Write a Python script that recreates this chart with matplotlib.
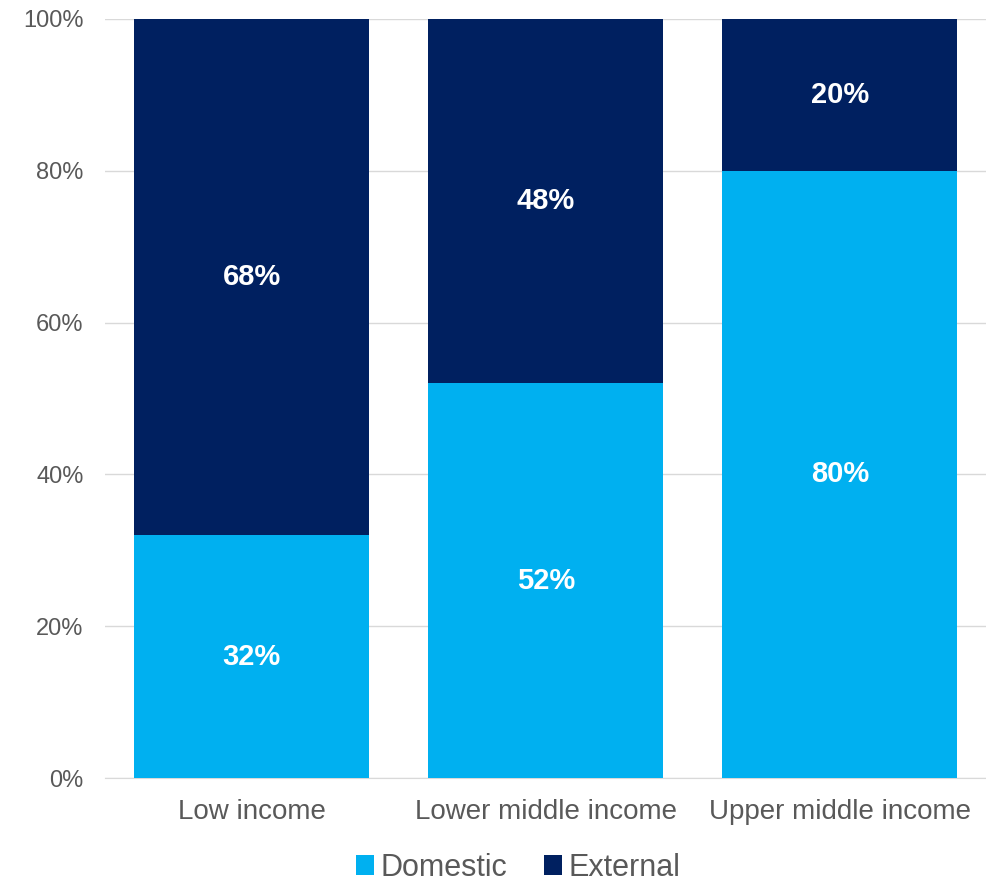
import matplotlib.pyplot as plt
from matplotlib.ticker import PercentFormatter

plt.rcParams['font.family'] = ['Liberation Sans', 'DejaVu Sans']

categories = ['Low income', 'Lower middle income', 'Upper middle income']
domestic = [32, 52, 80]
external = [68, 48, 20]

dom_color = '#00B0F0'
ext_color = '#002060'

fig = plt.figure(figsize=(9.87, 8.82), dpi=100)
ax = fig.add_axes([0.1059, 0.1179, 0.894, 0.8606])

x = range(len(categories))
b1 = ax.bar(x, domestic, width=0.8, color=dom_color, label='Domestic', zorder=3)
b2 = ax.bar(x, external, width=0.8, bottom=domestic, color=ext_color, label='External', zorder=3)

for bars, vals, bottoms in [(b1, domestic, [0, 0, 0]), (b2, external, domestic)]:
    for rect, v, b in zip(bars, vals, bottoms):
        ax.text(rect.get_x() + rect.get_width() / 2, b + v / 2, f'{v}%',
                ha='center', va='center', color='white', fontsize=21, fontweight='bold', zorder=4)

ax.set_xlim(-0.5, 2.5)
ax.set_ylim(0, 100)
ax.set_yticks(range(0, 101, 20))
ax.yaxis.set_major_formatter(PercentFormatter(decimals=0))
ax.set_xticks(list(x))
ax.set_xticklabels(categories)
ax.grid(axis='y', color='#D9D9D9', linewidth=1, zorder=0)
for s in ['top', 'right', 'left']:
    ax.spines[s].set_visible(False)
ax.spines['bottom'].set_color('#D9D9D9')
ax.tick_params(axis='both', length=0, labelcolor='#595959')
ax.tick_params(axis='y', labelsize=17, pad=15)
ax.tick_params(axis='x', labelsize=20, pad=15)

fig.legend(handles=[b1, b2], loc='center', bbox_to_anchor=(0.525, 0.016), ncol=2,
           frameon=False, fontsize=22, handlelength=0.6, handleheight=0.6,
           handletextpad=0.2, columnspacing=1.2, labelcolor='#595959',
           borderpad=0)

fig.savefig('out.png', dpi=100)
